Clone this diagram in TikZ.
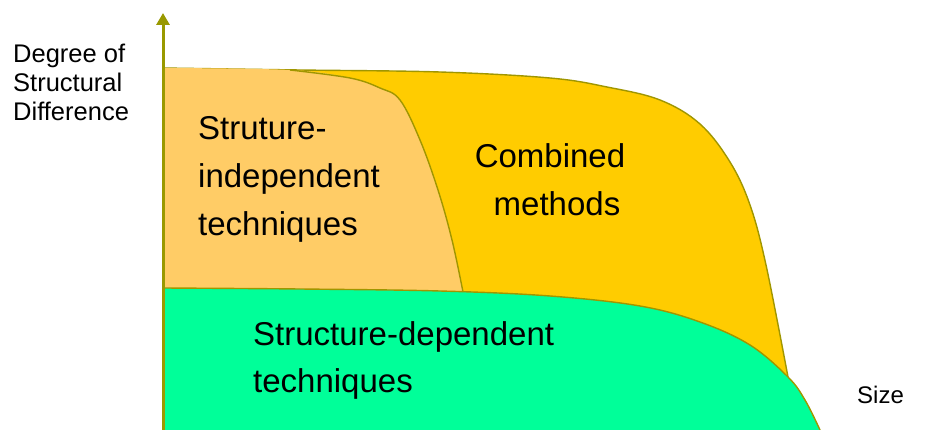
\documentclass[tikz,border=0pt]{standalone}
\usepackage{fontspec}
\setmainfont{Liberation Sans}
\usetikzlibrary{arrows.meta}
\definecolor{olivec}{RGB}{153,153,0}
\definecolor{edgec}{RGB}{160,150,0}
\definecolor{orangef}{HTML}{FFCC66}
\definecolor{yellowf}{HTML}{FFCC00}
\definecolor{greenf}{HTML}{00FF99}
\tikzset{
  edgeline/.style={draw=edgec, line width=1.4pt},
  biglabel/.style={font=\fontsize{33}{40}\selectfont, inner sep=0pt, anchor=base west},
  smalllabel/.style={font=\fontsize{25.5}{30}\selectfont, inner sep=0pt, anchor=base west},
}
\begin{document}
\begin{tikzpicture}[x=1pt,y=-1pt]
\useasboundingbox (0,0) rectangle (925,430);
% yellow region
\fill[yellowf] plot[smooth,tension=0.6] coordinates {(163,68) (300,70) (440,72) (550,78) (607,87) (660,100) (700,124) (730,162) (750,205) (766,265) (788,377)} -- (788,430) -- (163,430) -- cycle;
\draw[edgeline] plot[smooth,tension=0.6] coordinates {(163,68) (300,70) (440,72) (550,78) (607,87) (660,100) (700,124) (730,162) (750,205) (766,265) (788,377)};
% orange region
\fill[orangef] plot[smooth,tension=0.6] coordinates {(163,68) (290,70) (350,78) (380,88) (400,100) (420,140) (438,190) (452,240) (463,292)} -- (163,292) -- cycle;
\draw[edgeline] plot[smooth,tension=0.6] coordinates {(290,70) (350,78) (380,88) (400,100) (420,140) (438,190) (452,240) (463,292)};
% green region
\fill[greenf] plot[smooth,tension=0.6] coordinates {(163,288) (300,289) (440,291) (550,296) (640,306) (700,322) (750,345) (788,377) (805,400) (820,430)} -- (163,430) -- cycle;
\draw[edgeline] plot[smooth,tension=0.6] coordinates {(163,288) (300,289) (440,291) (550,296) (640,306) (700,322) (750,345) (788,377) (805,400) (820,430)};
% axis
\coordinate (axisbot) at (163,430);
\coordinate (axistop) at (163,13);
\draw[olivec, line width=3pt, -{Triangle[width=13pt,length=12pt]}] (axisbot) -- (axistop);
% labels
\node[smalllabel] (yl1) at (13,63) {Degree of};
\node[smalllabel] (yl2) at (13,92) {Structural};
\node[smalllabel] (yl3) at (13,121) {Difference};
\node[smalllabel, font=\fontsize{24}{29}\selectfont] (xl) at (857,403) {Size};
\node[biglabel] (si1) at (198,140) {Struture-};
\node[biglabel] (si2) at (198,188) {independent};
\node[biglabel] (si3) at (198,236) {techniques};
\node[biglabel, anchor=base] (cm1) at (550,168) {Combined};
\node[biglabel, anchor=base] (cm2) at (557,216) {methods};
\node[biglabel] (sd1) at (253,345) {Structure-dependent};
\node[biglabel] (sd2) at (253,392) {techniques};
\end{tikzpicture}
\end{document}
